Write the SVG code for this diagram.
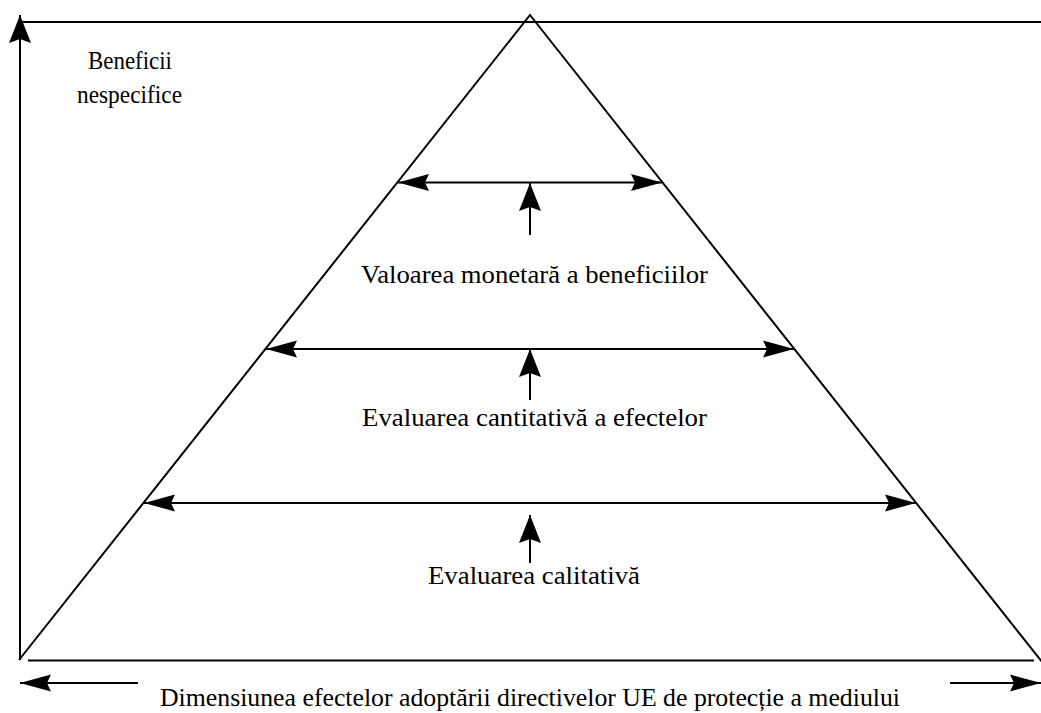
<svg xmlns="http://www.w3.org/2000/svg" width="1041" height="713" viewBox="0 0 1041 713">
<style>
.ln{stroke:#000;stroke-width:2;fill:none}
.t{font-family:"Liberation Serif","Times New Roman",serif;font-size:25px;fill:#000;text-anchor:middle}
</style>
<defs>
<marker id="ah" markerUnits="userSpaceOnUse" markerWidth="34" markerHeight="20" viewBox="0 -10 34 20" refX="31" refY="0" orient="auto">
<path d="M31,0 L0,-8.5 L4,0 L0,8.5 Z" fill="#000"/>
</marker>
<marker id="av" markerUnits="userSpaceOnUse" markerWidth="30" markerHeight="24" viewBox="0 -12 30 24" refX="28" refY="0" orient="auto">
<path d="M28,0 L0,-11 L4,0 L0,11 Z" fill="#000"/>
</marker>
</defs>
<rect width="1041" height="713" fill="#fff"/>
<g id="frame">
<line class="ln" x1="20" y1="22" x2="1041" y2="22"/>
<line class="ln" x1="28" y1="660.5" x2="1034" y2="660.5"/>
</g>
<g id="pyramid">
<polyline class="ln" points="19,660 530,15 1042,662"/>
</g>
<g id="connectors">
<line class="ln" x1="20" y1="660" x2="20" y2="15" marker-end="url(#av)"/>
<line class="ln" x1="138" y1="683" x2="20" y2="683" marker-end="url(#ah)"/>
<line class="ln" x1="950" y1="683" x2="1041" y2="683" marker-end="url(#ah)"/>
<line class="ln" x1="530" y1="182.5" x2="398" y2="182.5" marker-end="url(#ah)"/>
<line class="ln" x1="530" y1="182.5" x2="662" y2="182.5" marker-end="url(#ah)"/>
<line class="ln" x1="530" y1="349" x2="266" y2="349" marker-end="url(#ah)"/>
<line class="ln" x1="530" y1="349" x2="794" y2="349" marker-end="url(#ah)"/>
<line class="ln" x1="530" y1="503" x2="144" y2="503" marker-end="url(#ah)"/>
<line class="ln" x1="530" y1="503" x2="916" y2="503" marker-end="url(#ah)"/>
<line class="ln" x1="530" y1="235" x2="530" y2="183" marker-end="url(#av)"/>
<line class="ln" x1="530" y1="400" x2="530" y2="349" marker-end="url(#av)"/>
<line class="ln" x1="530" y1="563" x2="530" y2="515" marker-end="url(#av)"/>
</g>
<g id="label-axis-y">
<text class="t" x="130" y="69" textLength="84" lengthAdjust="spacingAndGlyphs">Beneficii</text>
<text class="t" x="129.5" y="103" textLength="105" lengthAdjust="spacingAndGlyphs">nespecifice</text>
</g>
<g id="label-monetar"><text class="t" x="534.5" y="283" textLength="347" lengthAdjust="spacingAndGlyphs">Valoarea monetară a beneficiilor</text></g>
<g id="label-cantitativ"><text class="t" x="534.5" y="426" textLength="345" lengthAdjust="spacingAndGlyphs">Evaluarea cantitativă a efectelor</text></g>
<g id="label-calitativ"><text class="t" x="534" y="584" textLength="212" lengthAdjust="spacingAndGlyphs">Evaluarea calitativă</text></g>
<g id="label-axis-x"><text class="t" x="530" y="706" textLength="740" lengthAdjust="spacingAndGlyphs">Dimensiunea efectelor adoptării directivelor UE de protecție a mediului</text></g>
</svg>
